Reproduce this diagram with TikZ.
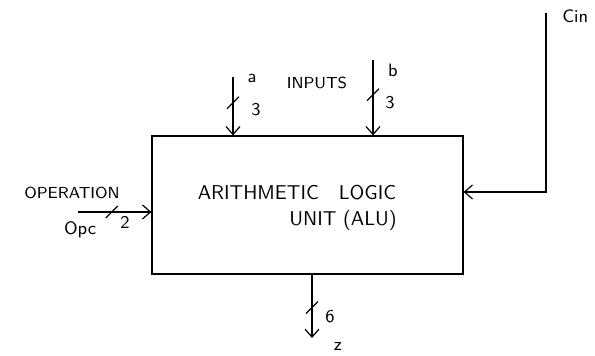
\documentclass[tikz,border=0pt]{standalone}
\usetikzlibrary{positioning, arrows.meta, calc}
\begin{document}
\begin{tikzpicture}[
        x=0.5pt, y=-0.5pt,
        font=\sffamily,
        blk/.style={draw, line width=0.6pt, minimum width=155.5pt, minimum height=69pt},
        sig/.style={-{Straight Barb[length=4pt, width=7pt]}, line width=0.6pt},
        wire/.style={line width=0.6pt},
        lbl/.style={inner sep=1pt, font=\sffamily\small}
    ]
    \useasboundingbox (0,0) rectangle (595,356);

    % ALU block
    \node[blk] (alu) at (307.5,205) {};
    \node (t1) at (297,193) {ARITHMETIC\quad LOGIC};
    \node (t2) at (343,221) {UNIT (ALU)};

    % Inputs a and b
    \coordinate (ina) at (233,77);
    \coordinate (inb) at (373,60);
    \draw[sig] (ina) -- coordinate[pos=0.44] (sa) (ina |- alu.north);
    \draw[sig] (inb) -- coordinate[pos=0.46] (sb) (inb |- alu.north);
    \draw[wire] ($(sa)+(-6,6)$) -- ($(sa)+(6,-6)$);
    \draw[wire] ($(sb)+(-6,6)$) -- ($(sb)+(6,-6)$);
    \node[lbl] (la) at (252,78) {a};
    \node[lbl] (na) at (256,110) {3};
    \node[lbl] (lb) at (393,70) {b};
    \node[lbl] (nb) at (390,103) {3};
    \node[lbl, font=\sffamily\footnotesize] (inputs) at (317,83) {INPUTS};

    % Operation code
    \coordinate (opc) at (78,212);
    \draw[sig] (opc) -- coordinate[pos=0.46] (so) (opc -| alu.west);
    \draw[wire] ($(so)+(-6,6)$) -- ($(so)+(6,-6)$);
    \node[lbl, font=\sffamily\footnotesize] (oper) at (72,193) {OPERATION};
    \node[lbl] (lopc) at (80,230) {Opc};
    \node[lbl] (no) at (125,222) {2};

    % Carry in
    \coordinate (cin) at (546,13);
    \coordinate (cinb) at (546,192);
    \draw[sig] (cin) -- (cinb) -- (cinb -| alu.east);
    \node[lbl, anchor=west] (lcin) at (560,16) {Cin};

    % Output z
    \coordinate (zout) at (312,338);
    \draw[sig] (alu.south -| zout) -- coordinate[pos=0.52] (sz) (zout);
    \draw[wire] ($(sz)+(-6,6)$) -- ($(sz)+(6,-6)$);
    \node[lbl] (nz) at (330,317) {6};
    \node[lbl] (lz) at (338,347) {z};
\end{tikzpicture}
\end{document}
